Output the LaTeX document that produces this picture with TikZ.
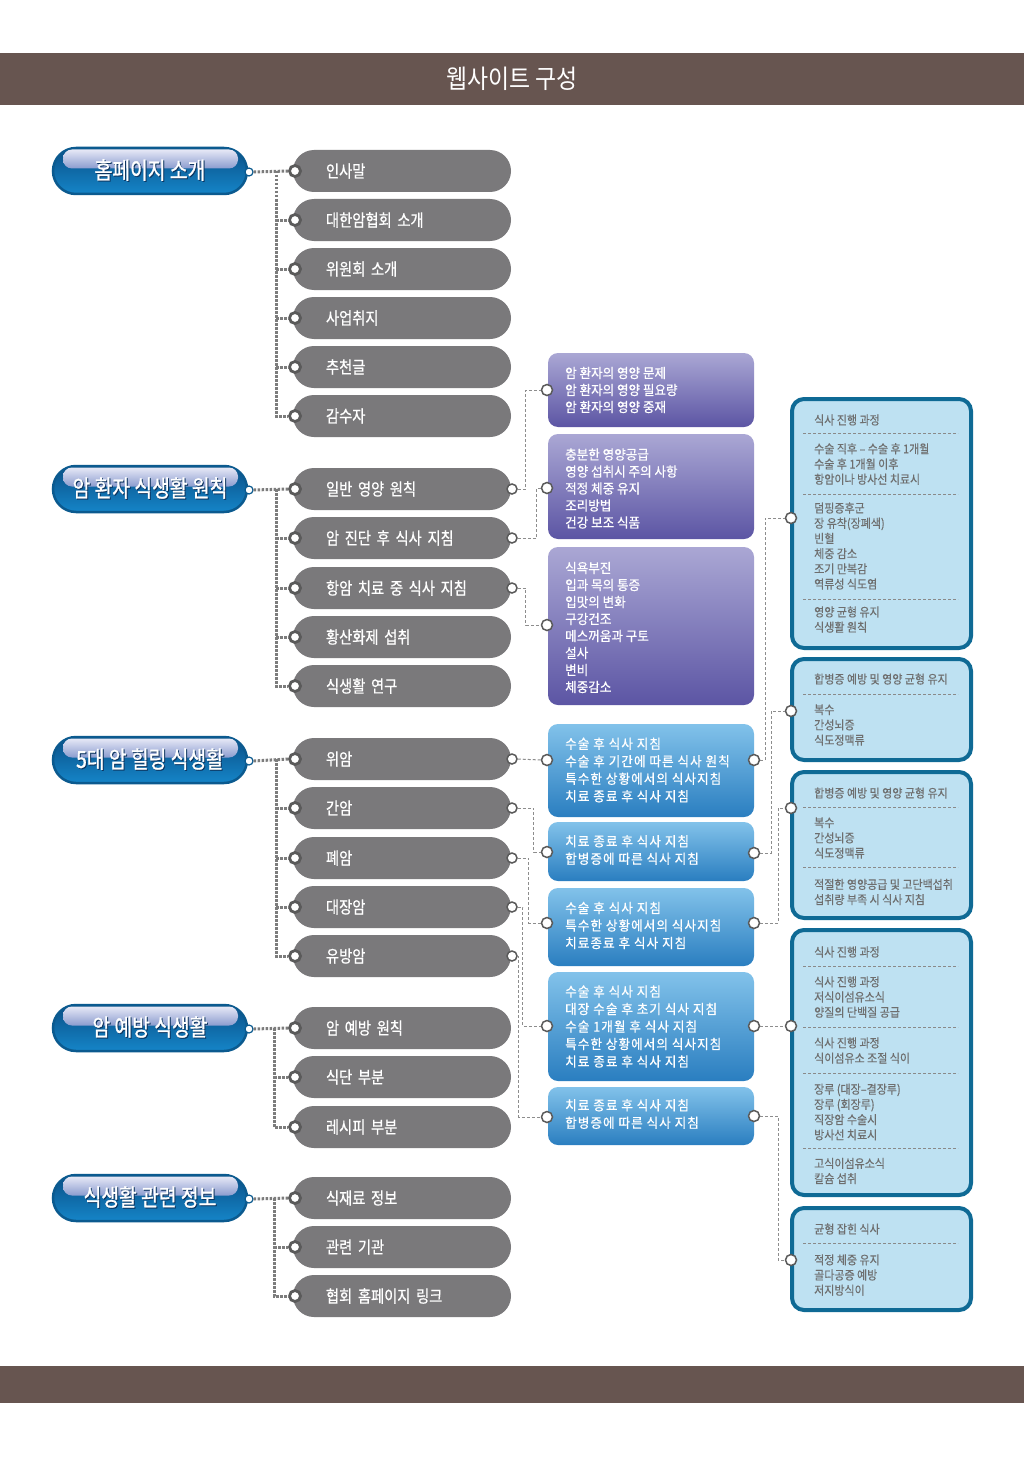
\documentclass[tikz,border=0pt]{standalone}
\usepackage{fontspec}
\setmainfont{Noto Sans CJK KR}
\newfontfamily\fHd[FakeStretch=0.88]{Noto Sans CJK KR}
\newfontfamily\fPl[FakeStretch=0.82,FakeBold=1.2]{Noto Sans CJK KR}
\newfontfamily\fGp[FakeStretch=0.84,FakeBold=0.7]{Noto Sans CJK KR}
\newfontfamily\fBx[FakeStretch=0.93,FakeBold=0.6]{Noto Sans CJK KR}
\newfontfamily\fBl[FakeStretch=0.93,FakeBold=0.6,LetterSpace=8]{Noto Sans CJK KR}
\newfontfamily\fRb[FakeStretch=0.90,FakeBold=0.4]{Noto Sans CJK KR}
\definecolor{hdr}{HTML}{675550}
\definecolor{bpborder}{HTML}{0B5A8F}
\definecolor{bptop}{HTML}{0A4F86}
\definecolor{bpbot}{HTML}{1585C8}
\definecolor{glosstop}{HTML}{E6E8F6}
\definecolor{glossbot}{HTML}{8B9CCF}
\definecolor{ptshadowc}{HTML}{0D3560}
\definecolor{gpill}{HTML}{7A797B}
\definecolor{circd}{HTML}{5A5A5A}
\definecolor{putop}{HTML}{AAA7D4}
\definecolor{pubot}{HTML}{5C55A4}
\definecolor{bltop}{HTML}{82C2EA}
\definecolor{blbot}{HTML}{2A7EC0}
\definecolor{rfill}{HTML}{BEE1F2}
\definecolor{rborder}{HTML}{0F6A95}
\definecolor{rtext}{HTML}{6E6E6E}
\definecolor{sepc}{HTML}{8A8A8A}
\definecolor{dotc}{HTML}{7C7C7C}
\definecolor{dashc}{HTML}{8D8D8D}
\tikzset{
  bluepill/.style={draw=bpborder, line width=2.5pt, rounded corners=23pt, minimum width=194pt, minimum height=46pt, top color=bptop, bottom color=bpbot, inner sep=0pt},
  gloss/.style={rounded corners=9pt, minimum width=175pt, minimum height=19pt, top color=glosstop, bottom color=glossbot, inner sep=0pt},
  ptitle/.style={text=white, font=\fPl\fontsize{23.5}{26}\selectfont, inner sep=0pt},
  ptshad/.style={text=ptshadowc, font=\fPl\fontsize{23.5}{26}\selectfont, inner sep=0pt},
  graypill/.style={fill=gpill, rounded corners=21pt, minimum height=42pt, text width=152pt, inner xsep=33pt, inner ysep=0pt, align=left, text=white, font=\fGp\fontsize{17}{20}\selectfont},
  gcirc/.style={circle, fill=white, draw=circd, line width=2.8pt, minimum size=11pt, inner sep=0pt},
  gcircr/.style={circle, fill=white, draw=circd, line width=1.5pt, minimum size=10pt, inner sep=0pt},
  bdot/.style={circle, fill=white, draw=bpborder, line width=1.2pt, minimum size=8pt, inner sep=0pt},
  bxcirc/.style={circle, fill=white, draw=circd, line width=1.5pt, minimum size=11pt, inner sep=0pt},
  purplebox/.style={rounded corners=10pt, top color=putop, bottom color=pubot, minimum width=206pt, inner sep=0pt},
  bluebox/.style={rounded corners=10pt, top color=bltop, bottom color=blbot, minimum width=206pt, inner sep=0pt},
  boxtext/.style={anchor=west, align=left, text=white, inner sep=0pt, font=\fBx\fontsize{13.5}{17}\selectfont},
  boxtextb/.style={anchor=west, align=left, text=white, inner sep=0pt, font=\fBl\fontsize{13.5}{17.5}\selectfont},
  rbox/.style={draw=rborder, line width=4pt, fill=rfill, rounded corners=12pt, minimum width=179pt, inner sep=0pt},
  rtextst/.style={anchor=west, align=left, text=rtext, inner sep=0pt, font=\fRb\fontsize{12.2}{15.2}\selectfont},
  sepl/.style={draw=sepc, line width=0.8pt, dash pattern=on 3pt off 2pt},
  dotl/.style={draw=dotc, line width=3pt, dash pattern=on 2.5pt off 1.5pt},
  dashl/.style={draw=dashc, line width=1pt, dash pattern=on 3pt off 2pt}
}
\newcommand\bpill[3]{%
  \node[bluepill] (#1) at (150,#2) {};
  \node[gloss] (#1g) at (150.5,#2-12) {};
  \node[ptshad] (#1s) at (151,#2) {#3};
  \node[ptitle] (#1t) at (150,#2-1) {#3};
  \node[bdot] (#1c) at (249,#2+1) {};
}
\newcommand\gpl[3]{%
  \node[graypill] (#1) at (402,#2) {#3};
  \node[gcirc] (#1c) at (295,#2) {};
}
\newcommand\gpr[1]{\node[gcircr] (#1r) at (512,0|-#1) {};}
\begin{document}
\begin{tikzpicture}[x=1pt,y=-1pt]
\useasboundingbox (0,0) rectangle (1024,1474);
\fill[white] (0,0) rectangle (1024,1474);
% header and footer
\fill[hdr] (0,53) rectangle (1024,105);
\node[font=\fHd\fontsize{26}{28}\selectfont, text=white, inner sep=0pt] (hdrt) at (512,79) {웹사이트 구성};
\fill[hdr] (0,1366) rectangle (1024,1403);

% level 1 pills
\bpill{p1}{171}{홈페이지 소개}
\bpill{p2}{489}{암 환자 식생활 원칙}
\bpill{p3}{760}{5대 암 힐링 식생활}
\bpill{p4}{1028}{암 예방 식생활}
\bpill{p5}{1198}{식생활 관련 정보}

% level 2 gray pills
\gpl{g11}{171}{인사말}
\gpl{g12}{220}{대한암협회 소개}
\gpl{g13}{269}{위원회 소개}
\gpl{g14}{318}{사업취지}
\gpl{g15}{367}{추천글}
\gpl{g16}{416}{감수자}
\gpl{g21}{489}{일반 영양 원칙}
\gpl{g22}{538}{암 진단 후 식사 지침}
\gpl{g23}{588}{항암 치료 중 식사 지침}
\gpl{g24}{637}{황산화제 섭취}
\gpl{g25}{686}{식생활 연구}
\gpl{g31}{759}{위암}
\gpl{g32}{808}{간암}
\gpl{g33}{858}{폐암}
\gpl{g34}{907}{대장암}
\gpl{g35}{956}{유방암}
\gpl{g41}{1028}{암 예방 원칙}
\gpl{g42}{1077}{식단 부분}
\gpl{g43}{1127}{레시피 부분}
\gpl{g51}{1198}{식재료 정보}
\gpl{g52}{1247}{관련 기관}
\gpl{g53}{1296}{협회 홈페이지 링크}
\gpr{g21}\gpr{g22}\gpr{g23}
\gpr{g31}\gpr{g32}\gpr{g33}\gpr{g34}\gpr{g35}

% purple boxes
\node[purplebox, minimum height=74pt] (pu1) at (651,390) {};
\node[boxtext] (pu1t) at (565,390) {암 환자의 영양 문제\\암 환자의 영양 필요량\\암 환자의 영양 중재};
\node[bxcirc] (pu1c) at (547,390) {};
\node[purplebox, minimum height=105pt] (pu2) at (651,486.5) {};
\node[boxtext] (pu2t) at (565,488.5) {충분한 영양공급\\영양 섭취시 주의 사항\\적정 체중 유지\\조리방법\\건강 보조 식품};
\node[bxcirc] (pu2c) at (547,488) {};
\node[purplebox, minimum height=158pt] (pu3) at (651,626) {};
\node[boxtext] (pu3t) at (565,627.5) {식욕부진\\입과 목의 통증\\입맛의 변화\\구강건조\\메스꺼움과 구토\\설사\\변비\\체중감소};
\node[bxcirc] (pu3c) at (547,625) {};

% blue boxes
\node[bluebox, minimum height=93pt] (b1) at (651,770.5) {};
\node[boxtextb] (b1t) at (565,770) {수술 후 식사 지침\\수술 후 기간에 따른 식사 원칙\\특수한 상황에서의 식사지침\\치료 종료 후 식사 지침};
\node[bxcirc] (b1c) at (547,760) {};
\node[bxcirc] (b1r) at (754,760) {};
\node[bluebox, minimum height=59pt] (b2) at (651,851.5) {};
\node[boxtextb] (b2t) at (565,850) {치료 종료 후 식사 지침\\합병증에 따른 식사 지침};
\node[bxcirc] (b2c) at (547,852) {};
\node[bxcirc] (b2r) at (754,853) {};
\node[bluebox, minimum height=78pt] (b3) at (651,927) {};
\node[boxtextb] (b3t) at (565,925.5) {수술 후 식사 지침\\특수한 상황에서의 식사지침\\치료종료 후 식사 지침};
\node[bxcirc] (b3c) at (547,923) {};
\node[bxcirc] (b3r) at (754,923) {};
\node[bluebox, minimum height=109pt] (b4) at (651,1026.5) {};
\node[boxtextb] (b4t) at (565,1026.5) {수술 후 식사 지침\\대장 수술 후 초기 식사 지침\\수술 1개월 후 식사 지침\\특수한 상황에서의 식사지침\\치료 종료 후 식사 지침};
\node[bxcirc] (b4c) at (547,1026) {};
\node[bxcirc] (b4r) at (754,1026) {};
\node[bluebox, minimum height=58pt] (b5) at (651,1116) {};
\node[boxtextb] (b5t) at (565,1114) {치료 종료 후 식사 지침\\합병증에 따른 식사 지침};
\node[bxcirc] (b5c) at (547,1117) {};
\node[bxcirc] (b5r) at (754,1116) {};

% right boxes
\node[rbox, minimum height=249pt] (r1) at (881.5,523.5) {};
\node[rtextst] (r1a) at (814,420) {식사 진행 과정};
\node[rtextst] (r1b) at (814,464) {수술 직후 – 수술 후 1개월\\수술 후 1개월 이후\\항암이나 방사선 치료시};
\node[rtextst] (r1d) at (814,546) {덤핑증후군\\장 유착(장폐색)\\빈혈\\체중 감소\\조기 만복감\\역류성 식도염};
\node[rtextst] (r1e) at (814,619.5) {영양 균형 유지\\식생활 원칙};
\draw[sepl] (803,433) -- (958,433);
\draw[sepl] (803,494) -- (958,494);
\draw[sepl] (803,599) -- (958,599);
\node[bxcirc] (r1c) at (791,518) {};

\node[rbox, minimum height=101pt] (r2) at (881.5,709.5) {};
\node[rtextst] (r2a) at (814,679) {합병증 예방 및 영양 균형 유지};
\node[rtextst] (r2b) at (814,725) {복수\\간성뇌증\\식도정맥류};
\draw[sepl] (803,694) -- (958,694);
\node[bxcirc] (r2c) at (791,711) {};

\node[rbox, minimum height=146pt] (r3) at (881.5,845) {};
\node[rtextst] (r3a) at (814,793) {합병증 예방 및 영양 균형 유지};
\node[rtextst] (r3b) at (814,838) {복수\\간성뇌증\\식도정맥류};
\node[rtextst] (r3d) at (814,892) {적절한 영양공급 및 고단백섭취\\섭취량 부족 시 식사 지침};
\draw[sepl] (803,807) -- (958,807);
\draw[sepl] (803,867) -- (958,867);
\node[bxcirc] (r3c) at (791,808) {};

\node[rbox, minimum height=265pt] (r4) at (881.5,1062.5) {};
\node[rtextst] (r4a) at (814,952) {식사 진행 과정};
\node[rtextst] (r4b) at (814,997) {식사 진행 과정\\저식이섬유소식\\양질의 단백질 공급};
\node[rtextst] (r4d) at (814,1050.5) {식사 진행 과정\\식이섬유소 조절 식이};
\node[rtextst] (r4e) at (814,1112) {장루 (대장–결장루)\\장루 (회장루)\\직장암 수술시\\방사선 치료시};
\node[rtextst] (r4f) at (814,1171) {고식이섬유소식\\칼슘 섭취};
\draw[sepl] (803,966) -- (958,966);
\draw[sepl] (803,1027) -- (958,1027);
\draw[sepl] (803,1073) -- (958,1073);
\draw[sepl] (803,1148) -- (958,1148);
\node[bxcirc] (r4c) at (791,1026) {};

\node[rbox, minimum height=102pt] (r5) at (881.5,1259) {};
\node[rtextst] (r5a) at (814,1229) {균형 잡힌 식사};
\node[rtextst] (r5b) at (814,1275) {적정 체중 유지\\골다공증 예방\\저지방식이};
\draw[sepl] (803,1243) -- (958,1243);
\node[bxcirc] (r5c) at (791,1260) {};

% dotted connectors level1 -> level2
\coordinate (t1) at (276,171);
\draw[dotl] (p1c.east) -- (g11c.west);
\draw[dotl] (t1) |- (g16c.west);
\draw[dotl] (t1 |- g12c) -- (g12c.west);
\draw[dotl] (t1 |- g13c) -- (g13c.west);
\draw[dotl] (t1 |- g14c) -- (g14c.west);
\draw[dotl] (t1 |- g15c) -- (g15c.west);
\coordinate (t2) at (276,489);
\draw[dotl] (p2c.east) -- (g21c.west);
\draw[dotl] (t2) |- (g25c.west);
\draw[dotl] (t2 |- g22c) -- (g22c.west);
\draw[dotl] (t2 |- g23c) -- (g23c.west);
\draw[dotl] (t2 |- g24c) -- (g24c.west);
\coordinate (t3) at (276,759);
\draw[dotl] (p3c.east) -- (g31c.west);
\draw[dotl] (t3) |- (g35c.west);
\draw[dotl] (t3 |- g32c) -- (g32c.west);
\draw[dotl] (t3 |- g33c) -- (g33c.west);
\draw[dotl] (t3 |- g34c) -- (g34c.west);
\coordinate (t4) at (274,1028);
\draw[dotl] (p4c.east) -- (g41c.west);
\draw[dotl] (t4) |- (g43c.west);
\draw[dotl] (t4 |- g42c) -- (g42c.west);
\coordinate (t5) at (274,1198);
\draw[dotl] (p5c.east) -- (g51c.west);
\draw[dotl] (t5) |- (g53c.west);
\draw[dotl] (t5 |- g52c) -- (g52c.west);

% dashed connectors level2 -> level3
\draw[dashl] (g21r.east) -- ++(8,0) |- (pu1c.west);
\draw[dashl] (g22r.east) -- ++(19,0) |- (pu2c.west);
\draw[dashl] (g23r.east) -- ++(8,0) |- (pu3c.west);
\draw[dashl] (g31r.east) -- (b1c.west);
\draw[dashl] (g32r.east) -- ++(16,0) |- (b2c.west);
\draw[dashl] (g33r.east) -- ++(11,0) |- (b3c.west);
\draw[dashl] (g34r.east) -- ++(5,0) |- (b4c.west);
\draw[dashl] (g35r.east) -- ++(1,0) |- (b5c.west);

% dashed connectors level3 -> level4
\draw[dashl] (b1r.east) -- ++(5,0) |- (r1c.west);
\draw[dashl] (b2r.east) -- ++(11,0) |- (r2c.west);
\draw[dashl] (b3r.east) -- ++(18,0) |- (r3c.west);
\draw[dashl] (b4r.east) -- (r4c.west);
\draw[dashl] (b5r.east) -- ++(18,0) |- (r5c.west);
\end{tikzpicture}
\end{document}
